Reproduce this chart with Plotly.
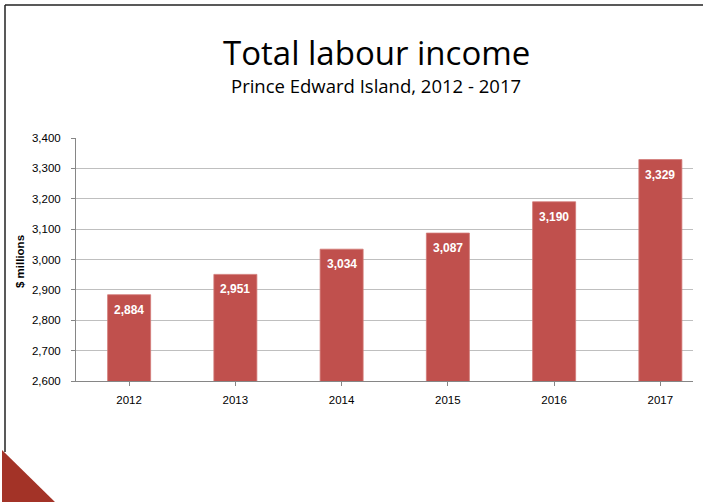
import plotly.graph_objects as go

years = ["2012", "2013", "2014", "2015", "2016", "2017"]
values = [2884, 2951, 3034, 3087, 3190, 3329]
y_ticks = [2600, 2700, 2800, 2900, 3000, 3100, 3200, 3300, 3400]
y_tick_labels = [f"{v:,}" for v in y_ticks]

W, H = 703, 502
L, R, T, B = 76, 10, 138, 121
pw = W - L - R
ph = H - T - B

def px(x):
    return (x - L) / pw

def py(y):
    return (H - B - y) / ph

fig = go.Figure()
fig.add_trace(go.Bar(
    x=list(range(len(years))), y=values,
    width=0.405,
    marker=dict(color="#c0504d", line=dict(color="#d27a77", width=0.8)),
    hoverinfo="skip",
))

annotations = []
for i, v in enumerate(values):
    annotations.append(dict(
        x=i, y=v, xref="x", yref="y", text=f"<b>{v:,}</b>", showarrow=False,
        yanchor="top", yshift=-6,
        font=dict(family="Liberation Sans, Arial", size=12, color="white"),
    ))

annotations += [
    dict(x=px(376), y=py(52), xref="paper", yref="paper", text="Total labour income",
         showarrow=False, xanchor="center", yanchor="middle",
         font=dict(family="Open Sans", size=33, color="black")),
    dict(x=px(376), y=py(85), xref="paper", yref="paper", text="Prince Edward Island, 2012 - 2017",
         showarrow=False, xanchor="center", yanchor="middle",
         font=dict(family="Open Sans", size=18.5, color="black")),
    dict(x=px(20), y=py(262), xref="paper", yref="paper", text="<b>$ millions</b>",
         showarrow=False, xanchor="center", yanchor="middle", textangle=-90,
         font=dict(family="Liberation Sans, Arial", size=11.5, color="black")),
]

shapes = [
    # frame lines
    dict(type="line", xref="paper", yref="paper", x0=px(5), y0=py(5), x1=px(703), y1=py(5),
         line=dict(color="#222222", width=1.5)),
    dict(type="line", xref="paper", yref="paper", x0=px(5), y0=py(5), x1=px(5), y1=py(452),
         line=dict(color="#222222", width=1.5)),
    # decorative triangle
    dict(type="path", xref="paper", yref="paper",
         path=f"M {px(2)},{py(450)} L {px(2)},{py(503)} L {px(56)},{py(503)} Z",
         fillcolor="#a33327", line=dict(width=0)),
]

fig.update_layout(
    width=W, height=H,
    margin=dict(l=L, r=R, t=T, b=B, pad=0),
    paper_bgcolor="white", plot_bgcolor="white",
    showlegend=False,
    bargap=0.6,
    annotations=annotations,
    shapes=shapes,
    xaxis=dict(
        range=[-0.5, -0.5 + pw / 106.25],
        tickmode="array", tickvals=list(range(len(years))), ticktext=years,
        tickson="boundaries", ticks="outside", ticklen=4, tickcolor="#868686",
        showline=True, linecolor="#868686", linewidth=1,
        showgrid=False, zeroline=False,
        tickfont=dict(family="Liberation Sans, Arial", size=11.5, color="black"),
        ticklabelstandoff=4,
        fixedrange=True,
    ),
    yaxis=dict(
        range=[2600, 3400],
        tickmode="array", tickvals=y_ticks, ticktext=y_tick_labels,
        ticks="outside", ticklen=4, tickcolor="#868686",
        showline=True, linecolor="#868686", linewidth=1,
        showgrid=True, gridcolor="#bfbfbf", gridwidth=1,
        zeroline=False,
        tickfont=dict(family="Liberation Sans, Arial", size=11.5, color="black"),
        ticklabelstandoff=8,
        fixedrange=True,
    ),
)

fig.write_html("out.html", config={"displayModeBar": False})
